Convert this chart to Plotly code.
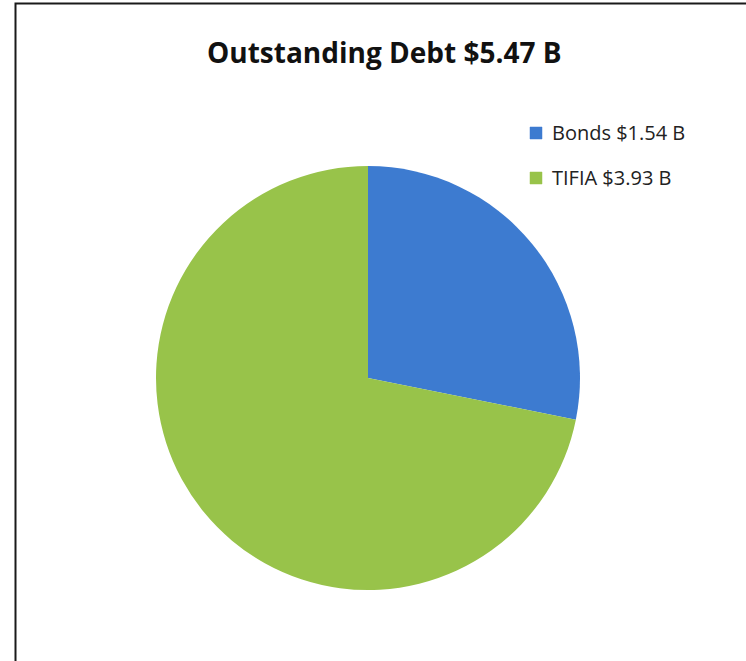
import plotly.graph_objects as go

# Data
categories = ["Bonds", "TIFIA"]
values = [1.54, 3.93]
colors = ["#3D7BD0", "#98C34A"]

total = sum(values)
title_text = f"Outstanding Debt ${total:.2f} B"
legend_labels = [f"{c} ${v:.2f} B" for c, v in zip(categories, values)]

W, H = 746, 661

def px_x(x):
    return x / W

def px_y(y):
    return 1 - y / H

fig = go.Figure()
fig.add_trace(go.Pie(
    labels=categories,
    values=values,
    sort=False,
    direction="clockwise",
    rotation=0,
    marker=dict(colors=colors, line=dict(width=0)),
    textinfo="none",
    hoverinfo="label+value",
    showlegend=False,
    domain=dict(x=[px_x(156), px_x(580)], y=[px_y(590), px_y(166)]),
))

shapes = [
    # chart frame
    dict(type="rect", xref="paper", yref="paper",
         x0=px_x(15.5), x1=1.2, y0=-0.2, y1=px_y(3.5),
         line=dict(color="#1a1a1a", width=2), fillcolor="rgba(0,0,0,0)"),
]
annotations = [
    dict(text=f"<b>{title_text}</b>", x=px_x(384), y=px_y(52), xref="paper", yref="paper",
         showarrow=False, xanchor="center", yanchor="middle",
         font=dict(family="Open Sans", size=28, color="#111111")),
]

legend_y = [133, 178]
for lab, col, ly in zip(legend_labels, colors, legend_y):
    shapes.append(dict(type="rect", xref="paper", yref="paper",
                       x0=px_x(530), x1=px_x(542), y0=px_y(ly + 6), y1=px_y(ly - 6),
                       line=dict(color=col, width=0.5), fillcolor=col))
    annotations.append(dict(text=lab, x=px_x(550), y=px_y(ly), xref="paper", yref="paper",
                            showarrow=False, xanchor="left", yanchor="middle",
                            font=dict(family="Open Sans", size=20, color="#222222")))

fig.update_layout(
    width=W, height=H,
    margin=dict(l=0, r=0, t=0, b=0),
    paper_bgcolor="white",
    plot_bgcolor="white",
    shapes=shapes,
    annotations=annotations,
)

fig.write_html("out.html", config={"displayModeBar": False},
               post_script="document.body.style.margin='0';")
